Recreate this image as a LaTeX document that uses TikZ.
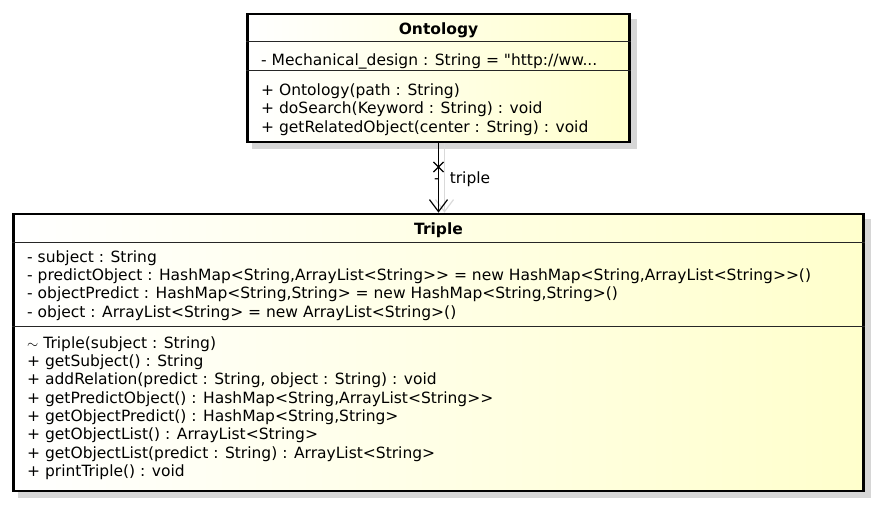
\documentclass[tikz,border=0pt]{standalone}
\usepackage{fontspec}
\newfontfamily\umlfont{DejaVu Sans}
\usetikzlibrary{arrows.meta,shapes.misc,backgrounds}
\definecolor{umlyellow}{RGB}{255,255,204}
\definecolor{umlshadow}{RGB}{214,214,214}
\tikzset{
  umlbox/.style={draw=black, line width=2.8pt, left color=white, right color=umlyellow, inner sep=0pt},
  umltxt/.style={inner sep=0pt, anchor=base west, font=\umlfont\fontsize{15.5}{18.3}\selectfont},
  umltitle/.style={inner sep=0pt, anchor=base, font=\umlfont\bfseries\fontsize{15.5}{18.3}\selectfont},
  divider/.style={draw=black!85, line width=1pt},
  shadowfill/.style={fill=umlshadow},
  assoc/.style={draw=black, line width=1.2pt, -{Straight Barb[length=12pt,width=18pt,line width=1.2pt]}},
  assocshadow/.style={draw=black!15, line width=1.2pt, -{Straight Barb[length=12pt,width=18pt,line width=1.2pt]}},
}
\begin{document}
\begin{tikzpicture}[x=1pt,y=-1pt]
\useasboundingbox (0,0) rectangle (878,505);
% boxes
\node[umlbox, minimum width=382pt, minimum height=128pt] (ont) at (438.5,78) {};
\node[umlbox, minimum width=850pt, minimum height=277pt] (tri) at (438.5,352.5) {};
\begin{scope}[on background layer]
  \fill[shadowfill] ([shift={(6,6)}]ont.north west) rectangle ([shift={(6,6)}]ont.south east);
  \fill[shadowfill] ([shift={(6,6)}]tri.north west) rectangle ([shift={(6,6)}]tri.south east);
\end{scope}
% Ontology
\node[umltitle] (ontT) at (438.5,35) {Ontology};
\draw[divider] (ont.west |- 0,42) -- (ont.east |- 0,42);
\node[umltxt] (ontA1) at (261,66) {- Mechanical\_design : String = "http://ww...};
\draw[divider] (ont.west |- 0,71) -- (ont.east |- 0,71);
\node[umltxt] (ontM1) at (261,95.5) {+ Ontology(path : String)};
\node[umltxt] (ontM2) at (261,114) {+ doSearch(Keyword : String) : void};
\node[umltxt] (ontM3) at (261,132.5) {+ getRelatedObject(center : String) : void};
% Triple
\node[umltitle] (triT) at (438.5,234) {Triple};
\draw[divider] (tri.west |- 0,242) -- (tri.east |- 0,242);
\node[umltxt] (triA1) at (27,262.3) {- subject : String};
\node[umltxt] (triA2) at (27,280.6) {- predictObject : HashMap<String,ArrayList<String>{}> = new HashMap<String,ArrayList<String>{}>()};
\node[umltxt] (triA3) at (27,298.9) {- objectPredict : HashMap<String,String> = new HashMap<String,String>()};
\node[umltxt] (triA4) at (27,317.2) {- object : ArrayList<String> = new ArrayList<String>()};
\draw[divider] (tri.west |- 0,326.5) -- (tri.east |- 0,326.5);
\node[umltxt] (triM1) at (27,348.3) {$\sim$ Triple(subject : String)};
\node[umltxt] (triM2) at (27,366.6) {+ getSubject() : String};
\node[umltxt] (triM3) at (27,384.9) {+ addRelation(predict : String, object : String) : void};
\node[umltxt] (triM4) at (27,403.2) {+ getPredictObject() : HashMap<String,ArrayList<String>{}>};
\node[umltxt] (triM5) at (27,421.5) {+ getObjectPredict() : HashMap<String,String>};
\node[umltxt] (triM6) at (27,439.8) {+ getObjectList() : ArrayList<String>};
\node[umltxt] (triM7) at (27,458.1) {+ getObjectList(predict : String) : ArrayList<String>};
\node[umltxt] (triM8) at (27,476.4) {+ printTriple() : void};
% association
\coordinate (sA) at ([xshift=6pt]ont.south);
\coordinate (sB) at ([xshift=6pt]tri.north);
\begin{scope}[on background layer]
  \draw[assocshadow] (sA) -- (sB);
\end{scope}
\draw[assoc] (ont.south) -- (tri.north);
\node[cross out, draw=black, line width=1.1pt, minimum size=9pt, inner sep=0pt] (xmark) at (438.5,167) {};
\node[umltxt] (lbl) at (434,183.3) {-\hspace{10pt}triple};
\end{tikzpicture}
\end{document}
